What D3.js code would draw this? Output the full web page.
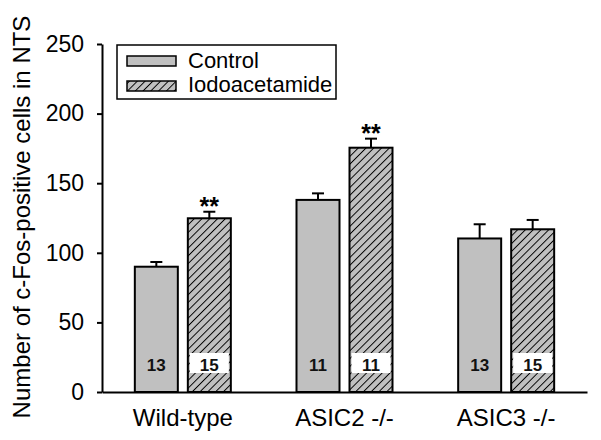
<!DOCTYPE html>
<html>
<head>
    <script src="https://d3js.org/d3.v7.min.js"></script>
    <style>
        body { margin: 0; background: #fff; }
        svg { font-family: "Liberation Sans", Arial, sans-serif; }
    </style>
</head>
<body>
    <div id="chart"></div>
    <script>
        const groups = ["Wild-type", "ASIC2 -/-", "ASIC3 -/-"];
        const series = ["Control", "Iodoacetamide"];
        const controlMean = [90, 138, 110.3];
        const controlErr = [3.4, 4.7, 10.2];
        const iodoMean = [124.8, 175.5, 116.9];
        const iodoErr = [4.7, 6.5, 6.7];
        const controlN = ["13", "11", "13"];
        const iodoN = ["15", "11", "15"];
        const signif = ["**", "**", ""];
        const yTicks = [0, 50, 100, 150, 200, 250];

        const W = 601, H = 440;
        const svg = d3.select("#chart").append("svg")
            .attr("width", W).attr("height", H);

        const defs = svg.append("defs");
        const pat = defs.append("pattern")
            .attr("id", "hatch")
            .attr("patternUnits", "userSpaceOnUse")
            .attr("width", 5.5).attr("height", 5.5)
            .attr("patternTransform", "rotate(45)");
        pat.append("rect").attr("width", 5.5).attr("height", 5.5).attr("fill", "#c0c0c0");
        pat.append("line").attr("x1", 0).attr("y1", 0).attr("x2", 0).attr("y2", 5.5)
            .attr("stroke", "#000").attr("stroke-width", 1.9);

        const x = d3.scaleBand().domain(groups).range([102, 587]);
        const y = d3.scaleLinear().domain([0, 250]).range([392, 44]);
        const barW = 43, gap = 10;

        const data = groups.map((g, i) => ({
            g: g,
            vals: [
                { s: 0, m: controlMean[i], e: controlErr[i], n: controlN[i] },
                { s: 1, m: iodoMean[i], e: iodoErr[i], n: iodoN[i] }
            ],
            sig: signif[i]
        }));

        function barX(g, s) {
            const c = x(g) + x.bandwidth() / 2;
            return s === 0 ? c - gap / 2 - barW : c + gap / 2;
        }

        const gBars = svg.append("g");
        data.forEach(d => {
            d.vals.forEach(v => {
                const bx = barX(d.g, v.s);
                const cx = bx + barW / 2;
                // error bar, upper half only
                gBars.append("line")
                    .attr("x1", cx).attr("x2", cx)
                    .attr("y1", y(v.m)).attr("y2", y(v.m + v.e))
                    .attr("stroke", "#000").attr("stroke-width", 2);
                gBars.append("line")
                    .attr("x1", cx - 6).attr("x2", cx + 6)
                    .attr("y1", y(v.m + v.e)).attr("y2", y(v.m + v.e))
                    .attr("stroke", "#000").attr("stroke-width", 2);
                gBars.append("rect")
                    .attr("x", bx).attr("y", y(v.m))
                    .attr("width", barW).attr("height", y(0) - y(v.m))
                    .attr("fill", v.s === 0 ? "#c0c0c0" : "url(#hatch)")
                    .attr("stroke", "#000").attr("stroke-width", 2);
                if (v.s === 1) {
                    gBars.append("rect")
                        .attr("x", bx + 2).attr("y", 353)
                        .attr("width", barW - 4).attr("height", 20)
                        .attr("fill", "#fff");
                }
                gBars.append("text")
                    .attr("x", cx).attr("y", 371)
                    .attr("text-anchor", "middle")
                    .attr("font-size", 17).attr("font-weight", "bold")
                    .attr("fill", "#111")
                    .text(v.n);
            });
            if (d.sig) {
                const v = d.vals[1];
                gBars.append("text")
                    .attr("x", barX(d.g, 1) + barW / 2)
                    .attr("y", y(v.m + v.e) + 3)
                    .attr("text-anchor", "middle")
                    .attr("font-size", 25).attr("font-weight", "bold")
                    .text(d.sig);
            }
        });

        // axes
        const yAxis = svg.append("g")
            .attr("transform", "translate(102,0)")
            .call(d3.axisLeft(y).tickValues(yTicks).tickSize(5).tickSizeOuter(0));
        yAxis.select(".domain").attr("stroke-width", 2);
        yAxis.selectAll(".tick line").attr("stroke-width", 2);
        yAxis.selectAll(".tick text").attr("font-size", 23).attr("x", -18)
            .attr("font-family", "Liberation Sans, Arial, sans-serif").attr("fill", "#000");

        const xAxis = svg.append("g")
            .attr("transform", "translate(0,392)")
            .call(d3.axisBottom(x).tickSize(0).tickSizeOuter(0));
        xAxis.select(".domain").attr("stroke-width", 2);
        xAxis.selectAll(".tick text").attr("font-size", 24).attr("dy", 0).attr("y", 34)
            .attr("font-family", "Liberation Sans, Arial, sans-serif").attr("fill", "#000");

        svg.append("text")
            .attr("transform", "translate(30,217) rotate(-90)")
            .attr("text-anchor", "middle")
            .attr("font-size", 24)
            .text("Number of c-Fos-positive cells in NTS");

        // legend
        const lg = svg.append("g");
        lg.append("rect").attr("x", 117).attr("y", 45).attr("width", 219).attr("height", 54)
            .attr("fill", "#fff").attr("stroke", "#000").attr("stroke-width", 1.5);
        series.forEach((s, i) => {
            lg.append("rect").attr("x", 127).attr("y", 56 + i * 25)
                .attr("width", 49).attr("height", 10)
                .attr("fill", i === 0 ? "#c0c0c0" : "url(#hatch)")
                .attr("stroke", "#000").attr("stroke-width", 1.5);
            lg.append("text").attr("x", 188).attr("y", 68 + i * 24)
                .attr("font-size", 22).text(s);
        });
    </script>
</body>
</html>
